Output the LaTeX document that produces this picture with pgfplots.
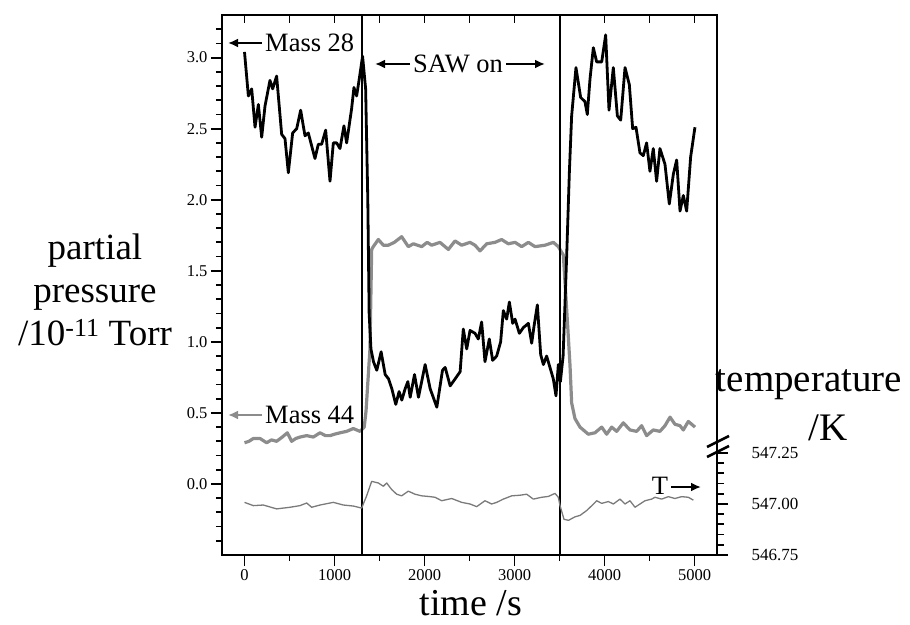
\documentclass[border=0pt]{standalone}
\usepackage{fontspec}
\setmainfont{Liberation Serif}
\usepackage{pgfplots}
\pgfplotsset{compat=1.18}
\usetikzlibrary{arrows.meta}

\definecolor{grMass}{HTML}{8C8C8C}
\definecolor{grTemp}{HTML}{7A7A7A}

% shared frame: 1pt here = 1px of the reference
\pgfplotsset{
  base/.style={
    scale only axis, width=495pt, height=540pt,
    at={(0,0)}, anchor=south west,
    xmin=-250, xmax=5250,
    axis line style={line width=2pt},
    tick style={black, line width=1.8pt},
    scaled ticks=false,
    /pgf/number format/assume math mode=true,
    tick label style={font=\fontsize{16.5}{18}\selectfont},
  }
}

\begin{document}
\begin{tikzpicture}
\useasboundingbox (-222pt,-69pt) rectangle (688pt,555pt);

% main axis: partial pressure
\begin{axis}[base,
    ymin=-0.5, ymax=3.3,
    xtick={0,1000,...,5000},
    minor xtick={500,1500,2500,3500,4500},
    ytick={0,0.5,1,1.5,2,2.5,3},
    minor ytick={-0.4,-0.3,-0.2,-0.1,0.1,0.2,0.3,0.4,0.6,0.7,0.8,0.9,1.1,1.2,1.3,1.4,1.6,1.7,1.8,1.9,2.1,2.2,2.3,2.4,2.6,2.7,2.8,2.9,3.1,3.2},
    xtick pos=bottom, ytick pos=left,
    tick align=outside,
    major tick length=11pt, minor tick length=6pt,
    xticklabel style={/pgf/number format/1000 sep={}},
    yticklabel style={/pgf/number format/fixed, /pgf/number format/fixed zerofill, /pgf/number format/precision=1},
]
% Mass 44
\addplot[grMass, line width=3.2pt, line join=round] coordinates {
(0,0.29)(50,0.30)(98,0.32)(172,0.32)(246,0.29)(300,0.31)(357,0.30)(420,0.33)(476,0.36)(524,0.30)
(570,0.32)(617,0.33)(691,0.34)(765,0.33)(839,0.36)(900,0.34)(950,0.34)(1000,0.35)(1061,0.36)(1135,0.37)
(1209,0.39)(1283,0.37)(1330,0.40)(1350,0.51)(1394,0.95)(1413,1.65)(1431,1.67)(1487,1.72)(1543,1.68)(1598,1.68)
(1665,1.70)(1746,1.74)(1820,1.67)(1876,1.69)(1969,1.67)(2030,1.70)(2080,1.68)(2172,1.70)(2265,1.65)(2339,1.71)
(2413,1.68)(2506,1.70)(2561,1.68)(2617,1.64)(2691,1.69)(2783,1.70)(2857,1.72)(2931,1.69)(3006,1.70)(3080,1.67)
(3154,1.70)(3228,1.67)(3339,1.68)(3432,1.70)(3487,1.67)(3543,1.61)(3591,1.11)(3617,0.83)(3635,0.57)(3672,0.46)
(3728,0.40)(3820,0.35)(3894,0.36)(3969,0.40)(4024,0.35)(4080,0.40)(4135,0.37)(4209,0.43)(4283,0.38)(4357,0.37)
(4413,0.41)(4468,0.34)(4542,0.38)(4616,0.37)(4672,0.41)(4728,0.47)(4783,0.42)(4839,0.41)(4876,0.38)(4931,0.44)
(5006,0.40)
};
% Mass 28
\addplot[black, line width=2.8pt, line join=round] coordinates {
(0,3.04)(43,2.73)(80,2.78)(117,2.51)(154,2.67)(191,2.44)(228,2.66)(283,2.84)(313,2.78)(357,2.87)
(413,2.46)(450,2.43)(487,2.19)(535,2.47)(580,2.50)(624,2.63)(672,2.45)(709,2.47)(746,2.38)(783,2.29)
(820,2.39)(857,2.39)(902,2.49)(950,2.13)(987,2.40)(1024,2.40)(1061,2.36)(1105,2.52)(1135,2.40)(1190,2.64)
(1216,2.79)(1246,2.73)(1275,2.85)(1312,3.01)(1346,2.78)(1370,2.00)(1385,1.20)(1405,0.95)(1433,0.86)(1470,0.80)
(1518,0.93)(1563,0.77)(1600,0.74)(1637,0.67)(1681,0.56)(1718,0.65)(1748,0.59)(1785,0.67)(1815,0.72)(1841,0.61)
(1889,0.77)(1933,0.61)(2007,0.84)(2063,0.67)(2137,0.54)(2200,0.80)(2230,0.82)(2285,0.69)(2341,0.74)(2396,0.79)
(2431,1.09)(2469,0.95)(2506,1.08)(2561,1.06)(2598,1.02)(2635,1.14)(2672,0.86)(2720,1.02)(2757,0.87)(2802,0.90)
(2846,1.00)(2876,1.22)(2913,1.16)(2943,1.28)(2980,1.13)(3006,1.16)(3054,1.06)(3098,1.10)(3154,1.13)(3191,0.99)
(3217,1.11)(3254,1.26)(3291,0.91)(3321,0.84)(3357,0.90)(3394,0.82)(3431,0.74)(3461,0.62)(3487,0.84)(3510,0.72)
(3540,0.90)(3560,1.25)(3580,1.61)(3610,2.20)(3635,2.59)(3683,2.93)(3735,2.72)(3783,2.69)(3809,2.60)(3839,2.85)
(3876,3.07)(3913,2.97)(3969,2.97)(4013,3.16)(4050,2.63)(4098,2.93)(4143,2.59)(4180,2.56)(4228,2.93)(4276,2.81)
(4313,2.50)(4350,2.51)(4394,2.33)(4431,2.31)(4468,2.40)(4505,2.20)(4542,2.36)(4579,2.13)(4616,2.36)(4672,2.25)
(4720,1.97)(4765,2.18)(4802,2.28)(4839,1.92)(4876,2.03)(4913,1.92)(4957,2.30)(5005,2.51)
};
% SAW on / off markers
\addplot[black, line width=2pt] coordinates {(1300,-0.5)(1300,3.3)};
\addplot[black, line width=2pt] coordinates {(3500,-0.5)(3500,3.3)};
\end{axis}

% top ticks, pointing inward
\begin{axis}[base,
    ymin=0, ymax=1, hide y axis,
    axis x line*=top,
    xtick={0,1000,...,5000},
    minor xtick={500,1500,2500,3500,4500},
    xticklabels={},
    tick align=inside,
    major tick length=8pt, minor tick length=8pt,
]
\end{axis}

% right axis: temperature
\begin{axis}[base,
    ymin=546.75, ymax=549.397,
    hide x axis,
    axis y line*=right,
    ytick={546.75,547,547.25},
    minor ytick={546.8,546.85,546.9,546.95,547.05,547.1,547.15,547.2},
    tick align=outside,
    major tick length=11pt, minor tick length=7pt,
    yticklabel style={xshift=20pt, font=\fontsize{17}{19}\selectfont,
      /pgf/number format/fixed, /pgf/number format/fixed zerofill,
      /pgf/number format/precision=2, /pgf/number format/1000 sep={}},
]
\addplot[grTemp, line width=1.3pt, line join=round] coordinates {
(0,547.008)(98,546.992)(209,546.995)(357,546.976)(506,546.984)(617,546.992)(691,547.005)(746,546.984)(839,546.995)(987,547.008)
(1098,546.995)(1209,546.990)(1302,546.980)(1357,547.040)(1413,547.111)(1487,547.103)(1543,547.087)(1580,547.103)(1635,547.071)(1691,547.048)
(1746,547.040)(1820,547.063)(1894,547.048)(1969,547.040)(2043,547.037)(2117,547.033)(2191,547.016)(2302,547.027)(2413,547.008)(2506,547.000)
(2580,546.987)(2672,547.016)(2746,547.000)(2802,547.008)(2876,547.024)(2969,547.040)(3061,547.043)(3135,547.048)(3209,547.024)(3302,547.033)
(3376,547.037)(3450,547.052)(3487,547.033)(3506,546.992)(3550,546.925)(3600,546.920)(3672,546.937)(3728,546.944)(3802,546.968)(3876,546.999)
(3913,547.016)(3969,547.003)(4043,547.012)(4098,547.000)(4172,547.024)(4228,547.000)(4283,547.016)(4339,546.984)(4394,547.000)(4450,547.016)
(4524,547.024)(4561,547.033)(4635,547.024)(4709,547.036)(4783,547.027)(4857,547.036)(4931,547.033)(4987,547.019)
};
\end{axis}

% axis break on the right axis
\draw[line width=2.5pt] (485pt,98pt) -- (507pt,109pt);
\draw[line width=2.5pt] (485pt,108pt) -- (507pt,119pt);

% annotations
\draw[-{Latex[length=10pt,width=9pt]}, line width=2.2pt] (40pt,512pt) -- (6pt,512pt);
\node[anchor=west, inner sep=0pt, font=\fontsize{26.5}{30}\selectfont] at (43pt,512pt) {Mass 28};
\node[inner sep=0pt, font=\fontsize{26.5}{30}\selectfont] (saw) at (236pt,491pt) {SAW on};
\draw[-{Latex[length=10pt,width=9pt]}, line width=2.2pt] (188pt,491pt) -- (153pt,491pt);
\draw[-{Latex[length=10pt,width=9pt]}, line width=2.2pt] (284pt,491pt) -- (323pt,491pt);
\draw[-{Latex[length=10pt,width=9pt]}, line width=2.2pt, grMass] (40pt,140pt) -- (6pt,140pt);
\node[anchor=west, inner sep=0pt, font=\fontsize{26.5}{30}\selectfont] at (43pt,140pt) {Mass 44};
\node[inner sep=0pt, font=\fontsize{26.5}{30}\selectfont] at (438pt,69pt) {T};
\draw[-{Latex[length=10pt,width=9pt]}, line width=2.2pt] (449pt,68pt) -- (479pt,68pt);

% axis titles
\node[align=center, font=\fontsize{37}{43}\selectfont] at (-127pt,265pt) {partial\\pressure\\/10\textsuperscript{-11} Torr};
\node[font=\fontsize{39}{43}\selectfont] at (587pt,170pt) {temperature};
\node[font=\fontsize{39}{43}\selectfont] at (606pt,127pt) {/K};
\node[font=\fontsize{38}{43}\selectfont] at (249pt,-48pt) {time /s};
\end{tikzpicture}
\end{document}
